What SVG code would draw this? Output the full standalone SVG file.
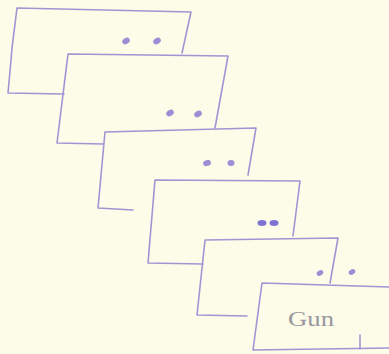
<svg xmlns="http://www.w3.org/2000/svg" width="389" height="354" viewBox="0 0 389 354">
<style>
.card{fill:none;stroke:#a095d4;stroke-width:1.6;stroke-linejoin:round;stroke-linecap:round}
.dot{fill:#9a8fd4}
.dk{fill:#7d72d6}
.lbl{font-family:"Liberation Serif",serif;font-size:22px;fill:#9a97a0}
</style>
<rect width="389" height="354" fill="#fdfce9"/>
<g id="connectors"/>
<g id="card1">
<polyline class="card" points="64,94 8,93 11,60 12,48 17,8 191,12 182,53"/>
<ellipse class="dot" cx="126" cy="41" rx="4" ry="3" transform="rotate(-30 126 41)"/>
<ellipse class="dot" cx="157" cy="41" rx="4" ry="3" transform="rotate(-30 157 41)"/>
</g>
<g id="card2">
<polyline class="card" points="103,144 57,143 68,54 228,56 215,128"/>
<ellipse class="dot" cx="170" cy="113" rx="4" ry="3" transform="rotate(-30 170 113)"/>
<ellipse class="dot" cx="198" cy="114" rx="4" ry="3" transform="rotate(-30 198 114)"/>
</g>
<g id="card3">
<polyline class="card" points="133,210 98,208 105,132 256,128 248,175"/>
<ellipse class="dot" cx="207" cy="163" rx="4" ry="3" transform="rotate(-20 207 163)"/>
<ellipse class="dot" cx="231" cy="163" rx="3.5" ry="3"/>
</g>
<g id="card4">
<polyline class="card" points="203,264 148,263 155,180 300,181 293,236"/>
<ellipse class="dk" cx="262" cy="223" rx="4.5" ry="3"/>
<ellipse class="dk" cx="274" cy="223" rx="4.5" ry="3"/>
</g>
<g id="card5">
<polyline class="card" points="247,316 197,315 205,240 338,238 330,283"/>
<ellipse class="dot" cx="320" cy="273" rx="3.5" ry="2.5" transform="rotate(-30 320 273)"/>
<ellipse class="dot" cx="352" cy="272" rx="3.5" ry="2.5" transform="rotate(-30 352 272)"/>
</g>
<g id="card6">
<polyline class="card" points="389,287 262,283 253,350 389,348"/>
<line class="card" x1="360" y1="335" x2="360" y2="349"/>
<text class="lbl" x="311" y="326" text-anchor="middle" textLength="46" lengthAdjust="spacingAndGlyphs">Gun</text>
</g>
</svg>
